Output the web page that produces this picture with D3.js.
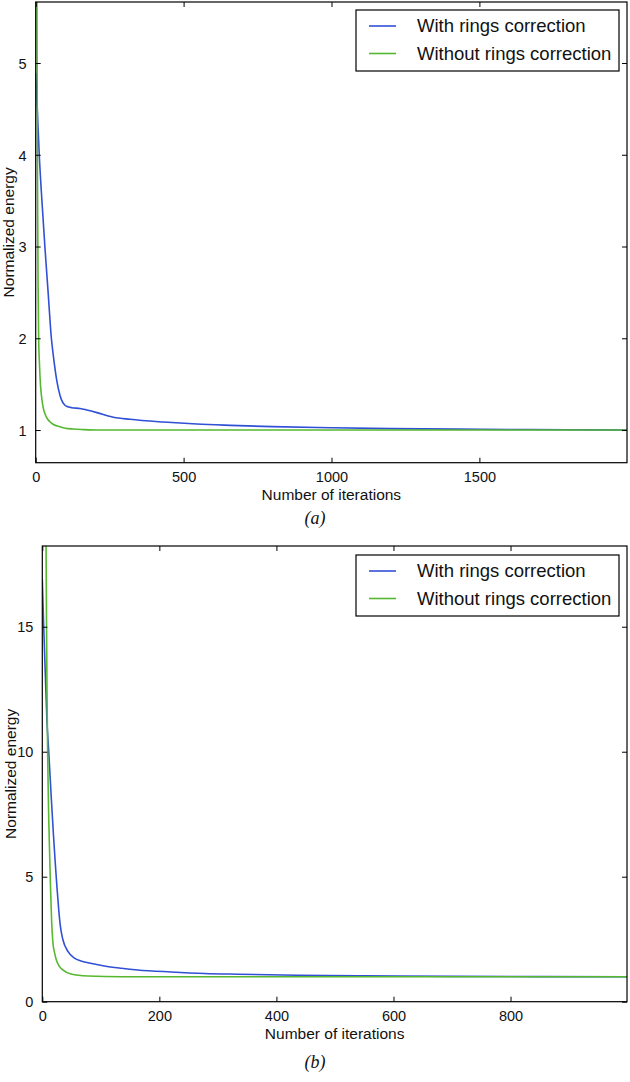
<!DOCTYPE html>
<html><head><meta charset="utf-8">
<script src="https://cdn.jsdelivr.net/npm/d3@7"></script>
<style>
html,body{margin:0;padding:0;background:#fff;}
svg{display:block;font-family:"Liberation Sans",Arial,sans-serif;}
</style></head>
<body>
<svg id="chart" width="630" height="1082"></svg>
<script>
// ---------- DATA ----------
const seriesNames = ["With rings correction", "Without rings correction"];
const seriesColors = ["#3050d6", "#55b82f"];

// Panel (a): [iteration, normalized energy]
const aWith = [[0,4.89],[6,4.45],[12,4.0],[21,3.5],[31,3.0],[42,2.5],[53,2.0],[60,1.8],[71,1.545],[82,1.38],[99,1.27],[112,1.25],[122,1.243],[150,1.235],[173,1.218],[207,1.19],[263,1.14],[319,1.117],[432,1.087],[545,1.065],[658,1.051],[800,1.037],[1000,1.025],[1200,1.015],[1500,1.008],[1800,1.003],[1999,1.0]];
const aWithout = [[0,9],[2,7.5],[4,5.8],[6,3.8],[8,2.6],[10,2.0],[13,1.7],[16,1.5],[20,1.36],[25,1.25],[31,1.18],[40,1.12],[48,1.09],[60,1.06],[82,1.036],[100,1.02],[127,1.011],[160,1.005],[207,1.0],[500,1.0],[1000,1.0],[1999,1.0]];

// Panel (b)
const bWith = [[0,16.9],[2,15.3],[5,13.2],[8,11.2],[11,10],[15,8.3],[19,6.7],[22,5.6],[25,4.6],[28,3.7],[31,3.0],[35,2.5],[44,2.0],[55,1.74],[66,1.63],[80,1.55],[106,1.43],[135,1.34],[163,1.27],[220,1.19],[277,1.13],[334,1.1],[436,1.06],[550,1.035],[700,1.015],[850,1.005],[999,1.0]];
const bWithout = [[0,80],[3,40],[5,26],[6,20],[7,16],[8,12.5],[9,10.2],[10,8.6],[11,7.3],[12,6.4],[14,4.6],[16,3.2],[18,2.4],[21,1.95],[24,1.67],[29,1.42],[35,1.27],[49,1.11],[78,1.03],[135,1.0],[999,1.0]];

const aXTicks = [0,500,1000,1500];
const aYTicks = [1,2,3,4,5];
const bXTicks = [0,200,400,600,800];
const bYTicks = [0,5,10,15];
const aXDomain = [0,1999], aYDomain = [0.644,5.665];
const bXDomain = [0,999],  bYDomain = [0,18.23];
const xLabel = "Number of iterations";
const yLabel = "Normalized energy";
const captions = ["(a)", "(b)"];

// ---------- DRAW ----------
const svg = d3.select("#chart");

function panel(cfg){
  const {left,right,top,bottom,xDomain,yDomain,xTicks,yTicks,series,caption,yLabelX,id} = cfg;
  const x = d3.scaleLinear().domain(xDomain).range([left,right]);
  const y = d3.scaleLinear().domain(yDomain).range([bottom,top]);
  const g = svg.append("g");

  g.append("clipPath").attr("id","clip"+id)
    .append("rect").attr("x",left).attr("y",top).attr("width",right-left).attr("height",bottom-top);

  const line = d3.line().x(d=>x(d[0])).y(d=>y(d[1])).curve(d3.curveMonotoneX);
  const lg = g.append("g").attr("clip-path","url(#clip"+id+")");
  series.forEach((s,i)=>{
    lg.append("path").attr("d",line(s)).attr("fill","none")
      .attr("stroke",seriesColors[i]).attr("stroke-width",1.6).attr("stroke-linejoin","round");
  });

  const tl = 5;
  const axB = d3.axisBottom(x).tickValues(xTicks).tickSize(-tl).tickPadding(8).tickFormat(d3.format("d"));
  const axT = d3.axisTop(x).tickValues(xTicks).tickSize(-tl).tickFormat("");
  const axL = d3.axisLeft(y).tickValues(yTicks).tickSize(-tl).tickPadding(9).tickFormat(d3.format("d"));
  const axR = d3.axisRight(y).tickValues(yTicks).tickSize(-tl).tickFormat("");
  const gb = g.append("g").attr("transform",`translate(0,${bottom})`).call(axB);
  const gt = g.append("g").attr("transform",`translate(0,${top})`).call(axT);
  const gl = g.append("g").attr("transform",`translate(${left},0)`).call(axL);
  const gr = g.append("g").attr("transform",`translate(${right},0)`).call(axR);
  [gb,gt,gl,gr].forEach(a=>{
    a.select(".domain").remove();
    a.selectAll("line").attr("stroke","#000").attr("stroke-width",1);
    a.selectAll("text").attr("font-size",14.5).attr("fill","#111")
      .attr("font-family","Liberation Sans, Arial, sans-serif");
  });
  gb.selectAll("text").attr("dy",null).attr("y",19).attr("dominant-baseline","alphabetic");
  gl.selectAll("text").attr("dy","0.36em");

  g.append("rect").attr("x",left).attr("y",top).attr("width",right-left).attr("height",bottom-top)
    .attr("fill","none").attr("stroke","#000").attr("stroke-width",1.2);

  g.append("text").attr("x",(left+right)/2).attr("y",bottom+37).attr("text-anchor","middle")
    .attr("font-size",15.5).attr("fill","#111").text(xLabel);
  g.append("text").attr("transform",`translate(${yLabelX},${(top+bottom)/2}) rotate(-90)`)
    .attr("text-anchor","middle").attr("font-size",15.5).attr("fill","#111").text(yLabel);
  g.append("text").attr("x",315).attr("y",bottom+cfg.capDy).attr("text-anchor","middle")
    .attr("font-family","Liberation Serif, Times New Roman, serif").attr("font-style","italic")
    .attr("font-size",18).attr("fill","#111").text(caption);

  const lw = 263, lh = 61;
  const lx = right-8-lw, ly = top+cfg.legDy;
  const leg = g.append("g");
  leg.append("rect").attr("x",lx).attr("y",ly).attr("width",lw).attr("height",lh)
    .attr("fill","#fff").attr("stroke","#000").attr("stroke-width",1.2);
  seriesNames.forEach((n,i)=>{
    const yy = ly + 16 + i*27.5;
    leg.append("line").attr("x1",lx+13).attr("x2",lx+40).attr("y1",yy).attr("y2",yy)
      .attr("stroke",seriesColors[i]).attr("stroke-width",1.6);
    leg.append("text").attr("x",lx+61).attr("y",yy).attr("dy","0.35em")
      .attr("font-size",18.5).attr("fill","#111").text(n);
  });
}

panel({id:"a",left:35.7,right:627,top:2,bottom:462.7,xDomain:aXDomain,yDomain:aYDomain,
  xTicks:aXTicks,yTicks:aYTicks,series:[aWith,aWithout],caption:captions[0],yLabelX:14,capDy:61,legDy:8});
panel({id:"b",left:42.3,right:627,top:546,bottom:1001.7,xDomain:bXDomain,yDomain:bYDomain,
  xTicks:bXTicks,yTicks:bYTicks,series:[bWith,bWithout],caption:captions[1],yLabelX:16,capDy:66,legDy:9});
</script>
</body></html>
